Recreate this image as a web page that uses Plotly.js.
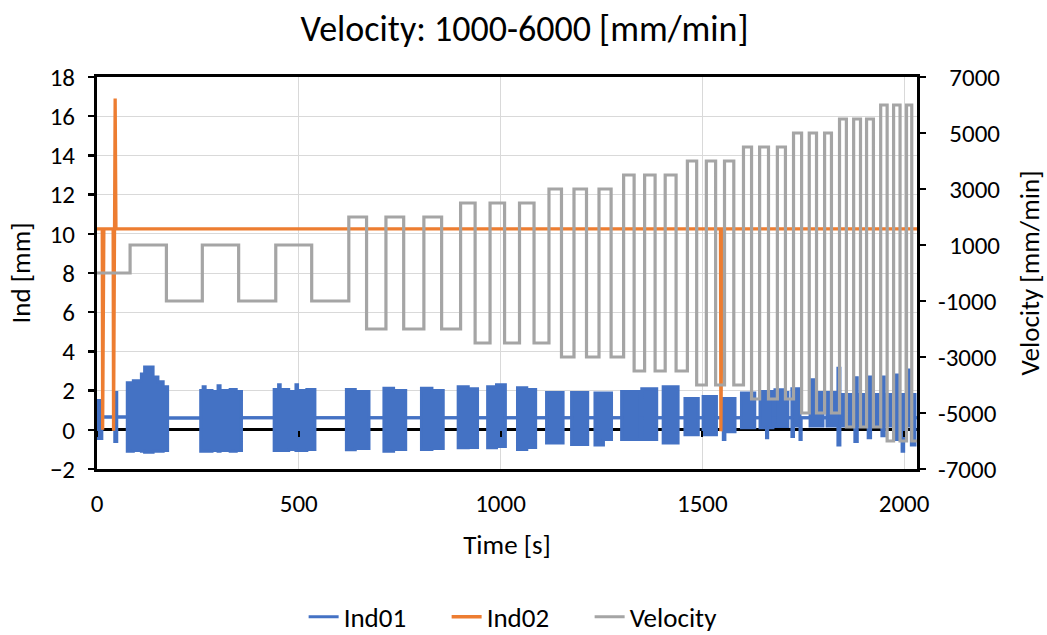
<!DOCTYPE html>
<html>
<head>
<meta charset="utf-8">
<script src="https://cdn.plot.ly/plotly-3.0.1.min.js"></script>
<style>html,body{margin:0;padding:0;background:#fff;}#chart{width:1047px;height:635px;}</style>
</head>
<body>
<div id="chart"></div>
<script>
// ---- Velocity (step signal, mm/min) ----
const velTime = [0, 82, 172, 261, 351, 443, 532, 624, 668, 716, 760, 810, 854, 901, 937, 974, 1010, 1047, 1083, 1120, 1151, 1182, 1213, 1244, 1274, 1305, 1331, 1357, 1383, 1408, 1435, 1463, 1486, 1510, 1533, 1555, 1578, 1602, 1622, 1642, 1664, 1686, 1706, 1726, 1746, 1765, 1783, 1803, 1820, 1840, 1857, 1875, 1892, 1907, 1924, 1942, 1958, 1974, 1990, 2006, 2019, 2032];
const velValue = [0, 1000, -1000, 1000, -1000, 1000, -1000, 2000, -2000, 2000, -2000, 2000, -2000, 2500, -2500, 2500, -2500, 2500, -2500, 3000, -3000, 3000, -3000, 3000, -3000, 3500, -3500, 3500, -3500, 3500, -3500, 4000, -4000, 4000, -4000, 4000, -4000, 4500, -4500, 4500, -4500, 4500, -4500, 5000, -5000, 5000, -5000, 5000, -5000, 5500, -5500, 5500, -5500, 5500, -5500, 6000, -6000, 6000, -6000, 6000, -6000, -6000];

// ---- Ind02 (mm) ----
const ind02Time = [0, 13, 14, 17, 40, 41, 45, 47, 1545, 1546, 1550, 2032];
const ind02Value = [10.25, 10.25, 0, 10.25, 10.25, -0.05, 16.9, 10.25, 10.25, -0.08, 10.25, 10.25];

// ---- Ind01 (mm): envelope of the oscillation (upper / lower), read per step ----
const ind01Time = [0, 12, 44, 49, 75, 90, 110, 118, 139, 151, 164, 175,
  257, 263, 268, 285, 300, 305, 330, 345, 358, 439, 450, 454, 475, 493, 497, 520, 540,
  618, 640, 674, 711, 735, 765, 804, 830, 858, 895, 920, 943, 968, 990, 1012, 1042, 1065, 1087,
  1114, 1155, 1176, 1216, 1234, 1255, 1275, 1300, 1345, 1350, 1387, 1403, 1440,
  1457, 1490, 1502, 1535, 1552, 1556, 1581, 1597, 1630, 1643, 1659, 1662, 1675,
  1680, 1705, 1712, 1722, 1726, 1738, 1742, 1745, 1767, 1778, 1799, 1809, 1836, 1841,
  1846, 1878, 1884, 1900, 1906, 1911, 1917, 1935, 1940, 1945, 1951, 1968,
  1973, 1980, 1986, 1995, 1999, 2010, 2018, 2027, 2032];
const ind01Upper = [1.5, 0.65, 1.9, 0.65, 2.4, 2.5, 2.85, 3.2, 2.7, 2.45, 2.2, 0.6,
  2.0, 2.2, 2.0, 1.95, 2.25, 2.0, 2.05, 1.95, 0.62, 2.05, 2.3, 2.05, 1.95, 2.3, 2.0, 2.05, 0.62,
  2.05, 1.95, 0.62, 2.12, 2.0, 0.62, 2.12, 2.0, 0.62, 2.2, 2.1, 0.62, 2.2, 2.3, 0.62, 2.15, 2.05, 0.62,
  1.9, 0.62, 1.9, 0.62, 1.88, 1.88, 0.62, 1.95, 0.62, 2.1, 0.62, 2.2, 0.62,
  1.6, 0.62, 1.7, 0.62, 1.6, 1.6, 0.62, 1.88, 0.62, 1.95, 1.95, 1.95, 0.62,
  2.04, 1.9, 0.62, 2.1, 2.1, 2.1, 0.62, 0.62, 2.55, 1.9, 0.62, 1.9, 3.14, 0.62,
  1.8, 2.65, 1.8, 0.62, 1.8, 2.7, 1.8, 0.62, 1.8, 2.7, 1.8, 0.62,
  1.8, 2.8, 1.8, 1.8, 1.8, 3.05, 1.8, 0.62, 0.62];
const ind01Lower = [-0.45, 0.65, -0.6, 0.65, -1.1, -1.05, -1.1, -1.15, -1.1, -1.1, -1.05, 0.6,
  -1.1, -1.1, -1.1, -1.05, -1.1, -1.05, -1.1, -1.05, 0.62, -1.05, -1.05, -1.05, -1.0, -1.05, -1.05, -1.0, 0.62,
  -1.02, -0.95, 0.62, -1.1, -1.0, 0.62, -1.0, -0.95, 0.62, -0.92, -0.9, 0.62, -0.92, -0.85, 0.62, -1.0, -0.9, 0.62,
  -0.67, 0.62, -0.75, 0.62, -0.77, -0.5, 0.62, -0.5, 0.62, -0.5, 0.62, -0.67, 0.62,
  -0.25, 0.62, -0.25, 0.62, -0.5, -0.1, 0.62, 0.1, 0.62, 0.1, -0.4, 0.1, 0.62,
  0.17, 0.17, 0.62, -0.34, 0.2, 0.2, -0.5, 0.62, 0.2, 0.2, 0.62, 0.2, -0.77, 0.62,
  0.2, -0.6, 0.2, 0.62, 0.2, -0.4, 0.2, 0.62, 0.2, -0.3, 0.2, 0.62,
  0.2, -0.5, 0.2, -1.1, 0.2, 0.2, -0.77, 0.62, 0.62];

// ---- Axis ticks ----
const xTicks = [0, 500, 1000, 1500, 2000];
const yTicks = [-2, 0, 2, 4, 6, 8, 10, 12, 14, 16, 18];
const y2Ticks = [-7000, -5000, -3000, -1000, 1000, 3000, 5000, 7000];
const y2TickText = y2Ticks.map(v => (v >= 0 ? '\u00a0\u00a0' : '') + String(v));

const FONT = 'Carlito, Calibri, Lato, sans-serif';
const TICK = 25, LAB = 27;
const BLUE = '#4472C4', ORANGE = '#ED7D31', GRAY = '#A5A5A5';

const traces = [
  {x: ind01Time, y: ind01Upper, name: 'Ind01', type: 'scatter', mode: 'lines',
   line: {color: BLUE, width: 3, shape: 'hv'}, hoverinfo: 'skip'},
  {x: ind01Time, y: ind01Lower, name: 'Ind01', type: 'scatter', mode: 'lines', showlegend: false,
   fill: 'tonexty', fillcolor: BLUE, line: {color: BLUE, width: 3, shape: 'hv'}, hoverinfo: 'skip'},
  {x: ind02Time, y: ind02Value, name: 'Ind02', type: 'scatter', mode: 'lines',
   line: {color: ORANGE, width: 3.3}, hoverinfo: 'skip'},
  {x: velTime, y: velValue, name: 'Velocity', type: 'scatter', mode: 'lines', yaxis: 'y2',
   line: {color: GRAY, width: 3.2, shape: 'hv'}, hoverinfo: 'skip'},
  {x: [], y: [], xaxis: 'x2', yaxis: 'y', showlegend: false, hoverinfo: 'skip', type: 'scatter', mode: 'lines'}
];

const layout = {
  width: 1047, height: 635,
  margin: {l: 97, r: 130, t: 77, b: 166},
  paper_bgcolor: '#fff', plot_bgcolor: '#fff',
  font: {family: FONT, size: LAB, color: '#000'},
  title: {text: 'Velocity: 1000-6000 [mm/min]', font: {family: FONT, size: 36, color: '#000'},
          xref: 'container', x: 0.501, xanchor: 'center', yref: 'container', y: 0.955, yanchor: 'middle'},
  showlegend: true,
  legend: {orientation: 'h', xref: 'container', x: 0.29, xanchor: 'left',
           yref: 'container', y: 0.028, yanchor: 'middle', entrywidth: 98, entrywidthmode: 'pixels',
           font: {family: FONT, size: LAB, color: '#000'}, traceorder: 'normal'},
  xaxis: {range: [0, 2032], tickvals: xTicks, showgrid: true, gridcolor: '#D9D9D9', gridwidth: 1,
          showline: true, linecolor: '#000', linewidth: 3, mirror: true, zeroline: false,
          ticks: '', ticklabelstandoff: 10, tickfont: {family: FONT, size: TICK, color: '#000'},
          automargin: false,
          title: {text: 'Time [s]', font: {family: FONT, size: LAB, color: '#000'}, standoff: 18}},
  xaxis2: {range: [0, 2032], overlaying: 'x', anchor: 'free', position: 0.1, tickvals: xTicks,
           ticks: 'outside', ticklen: 6, tickwidth: 2, tickcolor: '#000', showticklabels: false,
           showgrid: false, showline: false, zeroline: false},
  yaxis: {range: [-2, 18], tickvals: yTicks, showgrid: true, gridcolor: '#D9D9D9', gridwidth: 1,
          showline: true, linecolor: '#000', linewidth: 3, zeroline: true, zerolinecolor: '#000', zerolinewidth: 3,
          ticks: 'outside', ticklen: 6, tickwidth: 2.5, tickcolor: '#000', ticklabelstandoff: 8,
          tickfont: {family: FONT, size: TICK, color: '#000'}, automargin: false,
          title: {text: 'Ind [mm]', font: {family: FONT, size: LAB, color: '#000'}, standoff: 12}},
  yaxis2: {range: [-7000, 7000], tickvals: y2Ticks, ticktext: y2TickText, overlaying: 'y', side: 'right',
           showgrid: false, zeroline: false, showline: true, linecolor: '#000', linewidth: 3,
           ticks: 'outside', ticklen: 6, tickwidth: 2.5, tickcolor: '#000', ticklabelstandoff: 7,
           tickfont: {family: FONT, size: TICK, color: '#000'}, automargin: false,
           title: {text: 'Velocity [mm/min]', font: {family: FONT, size: LAB, color: '#000'}, standoff: 21}}
};

Plotly.newPlot('chart', traces, layout, {staticPlot: true, displayModeBar: false});
</script>
</body>
</html>
